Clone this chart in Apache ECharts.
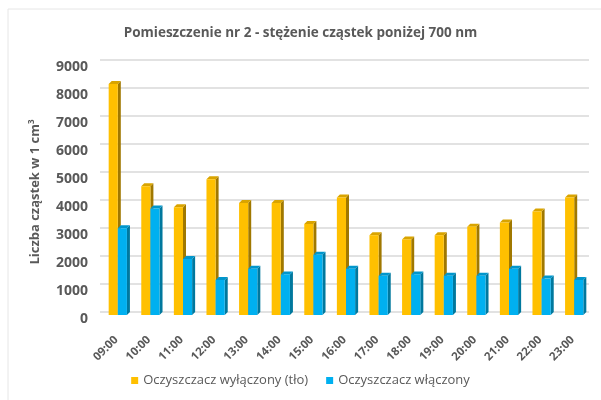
<!DOCTYPE html>
<html><head><meta charset="utf-8">
<script src="https://cdn.jsdelivr.net/npm/echarts@6/dist/echarts.min.js"></script>
<style>html,body{margin:0;padding:0;background:#fff}#c{width:601px;height:400px}</style>
</head><body><div id="c"></div>
<script>
const categories = ['09:00','10:00','11:00','12:00','13:00','14:00','15:00','16:00','17:00','18:00','19:00','20:00','21:00','22:00','23:00'];
const offValues = [8250,4600,3850,4850,4000,4000,3250,4200,2850,2700,2850,3150,3300,3700,4200];
const onValues  = [3100,3800,2000,1250,1650,1450,2150,1650,1400,1450,1400,1400,1650,1300,1250];
const yTicks = [0,1000,2000,3000,4000,5000,6000,7000,8000,9000];
const seriesNames = ['Oczyszczacz wyłączony (tło)','Oczyszczacz włączony'];

const chart = echarts.init(document.getElementById('c'));
function make3D(idx, front, side, topc){
  return function(params, api){
    const cat = api.value(0), val = api.value(1);
    const t = api.coord([cat, val]);
    const b = api.coord([cat, 0]);
    const bw = api.size([1,0])[0];
    const w = bw*0.28, d = 3;
    const x0 = t[0] - w + 1.5 + idx*w;
    const ty = t[1] + d, by = b[1] + d;
    return {type:'group', children:[
      {type:'polygon', shape:{points:[[x0+w,ty],[x0+w+d,ty-d],[x0+w+d,by-d],[x0+w,by]]}, style:{fill:side}},
      {type:'polygon', shape:{points:[[x0,ty],[x0+d,ty-d],[x0+w+d,ty-d],[x0+w,ty]]}, style:{fill:topc}},
      {type:'rect', shape:{x:x0, y:ty, width:w, height:by-ty}, style:{fill:front}}
    ]};
  };
}
chart.setOption({
  animation:false,
  backgroundColor:'#fff',
  graphic:[{type:'rect', shape:{x:8,y:9,width:600,height:400}, style:{fill:'none', stroke:'#e6e6e6', lineWidth:1}, silent:true}],
  title:{text:'Pomieszczenie nr 2 - stężenie cząstek poniżej 700 nm', left:'center', top:21,
    textStyle:{fontFamily:'Open Sans', fontWeight:'bold', fontSize:13.5, color:'#595959'}},
  legend:{bottom:8, left:'center', itemWidth:7, itemHeight:7, itemGap:18, icon:'rect',
    textStyle:{fontFamily:'Open Sans', fontSize:13, color:'#595959'},
    data:[{name:seriesNames[0], itemStyle:{color:'#FFC000'}},{name:seriesNames[1], itemStyle:{color:'#00B0F0'}}]},
  grid:{left:100, right:12, top:60, bottom:88},
  xAxis:{type:'category', data:categories, axisLine:{show:false}, axisTick:{show:false},
    axisLabel:{rotate:45, margin:26, fontFamily:'Open Sans', fontSize:11.5, fontWeight:'bold', color:'#595959', interval:0}},
  yAxis:{type:'value', min:yTicks[0], max:yTicks[yTicks.length-1], interval:1000,
    name:'Liczba cząstek w 1 cm{sup|3}', nameLocation:'middle', nameGap:58,
    nameTextStyle:{fontFamily:'Open Sans', fontSize:13, fontWeight:'bold', color:'#595959', padding:[0,12,0,0],
      rich:{sup:{fontSize:8, fontFamily:'Open Sans', fontWeight:'bold', color:'#595959', verticalAlign:'top', padding:[0,0,6,0]}}},
    axisLine:{show:false}, axisTick:{show:false},
    axisLabel:{fontFamily:'Open Sans', fontSize:14, fontWeight:'bold', color:'#595959', margin:12,
      verticalAlign:'top', formatter:v=>String(v)},
    splitLine:{lineStyle:{color:'#D9D9D9', width:1.5}}},
  series:[
    {name:seriesNames[0], type:'custom', renderItem:make3D(0,'#FFC000','#A07800','#D9A400'),
      data:offValues.map((v,i)=>[i,v]), encode:{x:0,y:1}, itemStyle:{color:'#FFC000'}},
    {name:seriesNames[1], type:'custom', renderItem:make3D(1,'#00B0F0','#00789E','#0096CC'),
      data:onValues.map((v,i)=>[i,v]), encode:{x:0,y:1}, itemStyle:{color:'#00B0F0'}}
  ]
});
</script></body></html>
